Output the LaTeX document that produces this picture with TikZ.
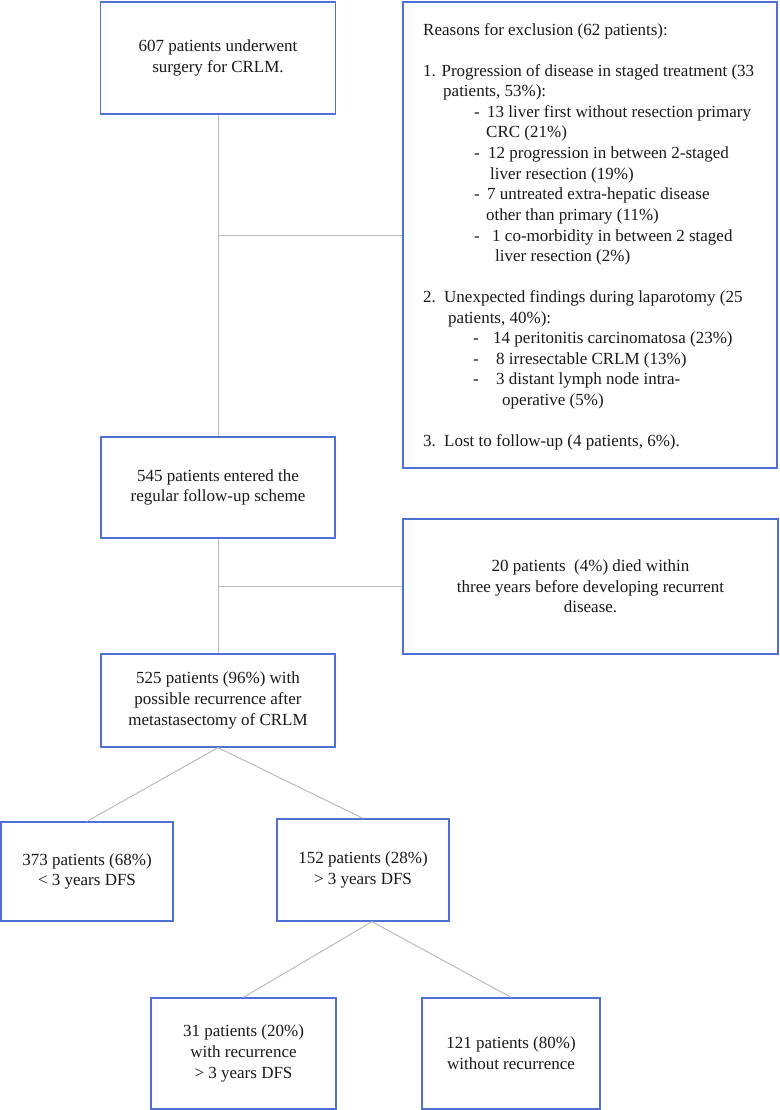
\documentclass[tikz,border=0pt]{standalone}
\usepackage{fontspec}
\setmainfont{Liberation Serif}
\definecolor{boxblue}{RGB}{80,112,214}
\definecolor{conngray}{RGB}{182,188,192}
\begin{document}
\begin{tikzpicture}[x=1pt,y=-1pt,
  box/.style={draw=boxblue, line width=1.3pt, fill=white, inner sep=0pt,
              font=\fontsize{17}{20.7}\selectfont, align=center, text=black!90},
  txt/.style={inner sep=0pt, anchor=base west, font=\fontsize{17}{20.7}\selectfont, text=black!90},
  conn/.style={draw=conngray, line width=1pt}]
\useasboundingbox (0,0) rectangle (779,1110);

% main boxes
\node[box, minimum width=235pt, minimum height=112pt] (b1) at (218,58) {607 patients underwent\\surgery for CRLM.};
\node[box, minimum width=374pt, minimum height=466pt] (bx) at (590,235) {};
\node[box, minimum width=234pt, minimum height=101pt] (b2) at (218,487.5) {545 patients entered the\\regular follow-up scheme};
\node[box, minimum width=375pt, minimum height=135pt] (b4) at (590.5,586.5) {20 patients\ \ (4\%) died within\\three years before developing recurrent\\disease.};
\node[box, minimum width=234pt, minimum height=93pt] (b3) at (218,700.5) {525 patients (96\%) with\\possible recurrence after\\metastasectomy of CRLM};
\node[box, minimum width=172pt, minimum height=99pt] (b5) at (87,871.5) {373 patients (68\%)\\{<} 3 years DFS};
\node[box, minimum width=172pt, minimum height=102pt] (b6) at (363,870) {152 patients (28\%)\\{>} 3 years DFS};
\node[box, minimum width=185pt, minimum height=111pt] (b7) at (243.5,1053.5) {31 patients (20\%)\\with recurrence\\{>} 3 years DFS};
\node[box, minimum width=178pt, minimum height=111pt] (b8) at (511,1053.5) {121 patients (80\%)\\without recurrence};

% exclusion text
\node[txt] (e1) at (423,36) {Reasons for exclusion (62 patients):};
\node[txt] (e2) at (423,77) {1. Progression of disease in staged treatment (33};
\node[txt] (e3) at (443,97) {patients, 53\%):};
\node[txt] (d1) at (474,118) {-};
\node[txt] (e4) at (487,118) {13 liver first without resection primary};
\node[txt] (e5) at (486,138) {CRC (21\%)};
\node[txt] (d2) at (474,159) {-};
\node[txt] (e6) at (488,159) {12 progression in between 2-staged};
\node[txt] (e7) at (490,179) {liver resection (19\%)};
\node[txt] (d3) at (474,200) {-};
\node[txt] (e8) at (487,200) {7 untreated extra-hepatic disease};
\node[txt] (e9) at (486,220) {other than primary (11\%)};
\node[txt] (d4) at (474,241) {-};
\node[txt] (e10) at (492,241) {1 co-morbidity in between 2 staged};
\node[txt] (e11) at (495,261) {liver resection (2\%)};
\node[txt] (n2) at (423,302) {2.};
\node[txt] (e12) at (444,302) {Unexpected findings during laparotomy (25};
\node[txt] (e13) at (448,323) {patients, 40\%):};
\node[txt] (d5) at (473,343) {-};
\node[txt] (e14) at (493,343) {14 peritonitis carcinomatosa (23\%)};
\node[txt] (d6) at (473,364) {-};
\node[txt] (e15) at (496,364) {8 irresectable CRLM (13\%)};
\node[txt] (d7) at (473,384) {-};
\node[txt] (e16) at (496,384) {3 distant lymph node intra-};
\node[txt] (e17) at (502,405) {operative (5\%)};
\node[txt] (n3) at (423,446) {3.};
\node[txt] (e18) at (444,446) {Lost to follow-up (4 patients, 6\%).};

% connectors
\draw[conn] (b1.south) -- (b2.north);
\draw[conn] (b1.south |- bx.west) -- (bx.west);
\draw[conn] (b2.south) -- (b3.north);
\draw[conn] (b2.south |- b4.west) -- (b4.west);
\draw[conn] (b3.south) -- (b5.north);
\draw[conn] (b3.south) -- (b6.north);
\coordinate (b6s) at ([xshift=9pt]b6.south);
\draw[conn] (b6s) -- (b7.north);
\draw[conn] (b6s) -- (b8.north);
\end{tikzpicture}
\end{document}
